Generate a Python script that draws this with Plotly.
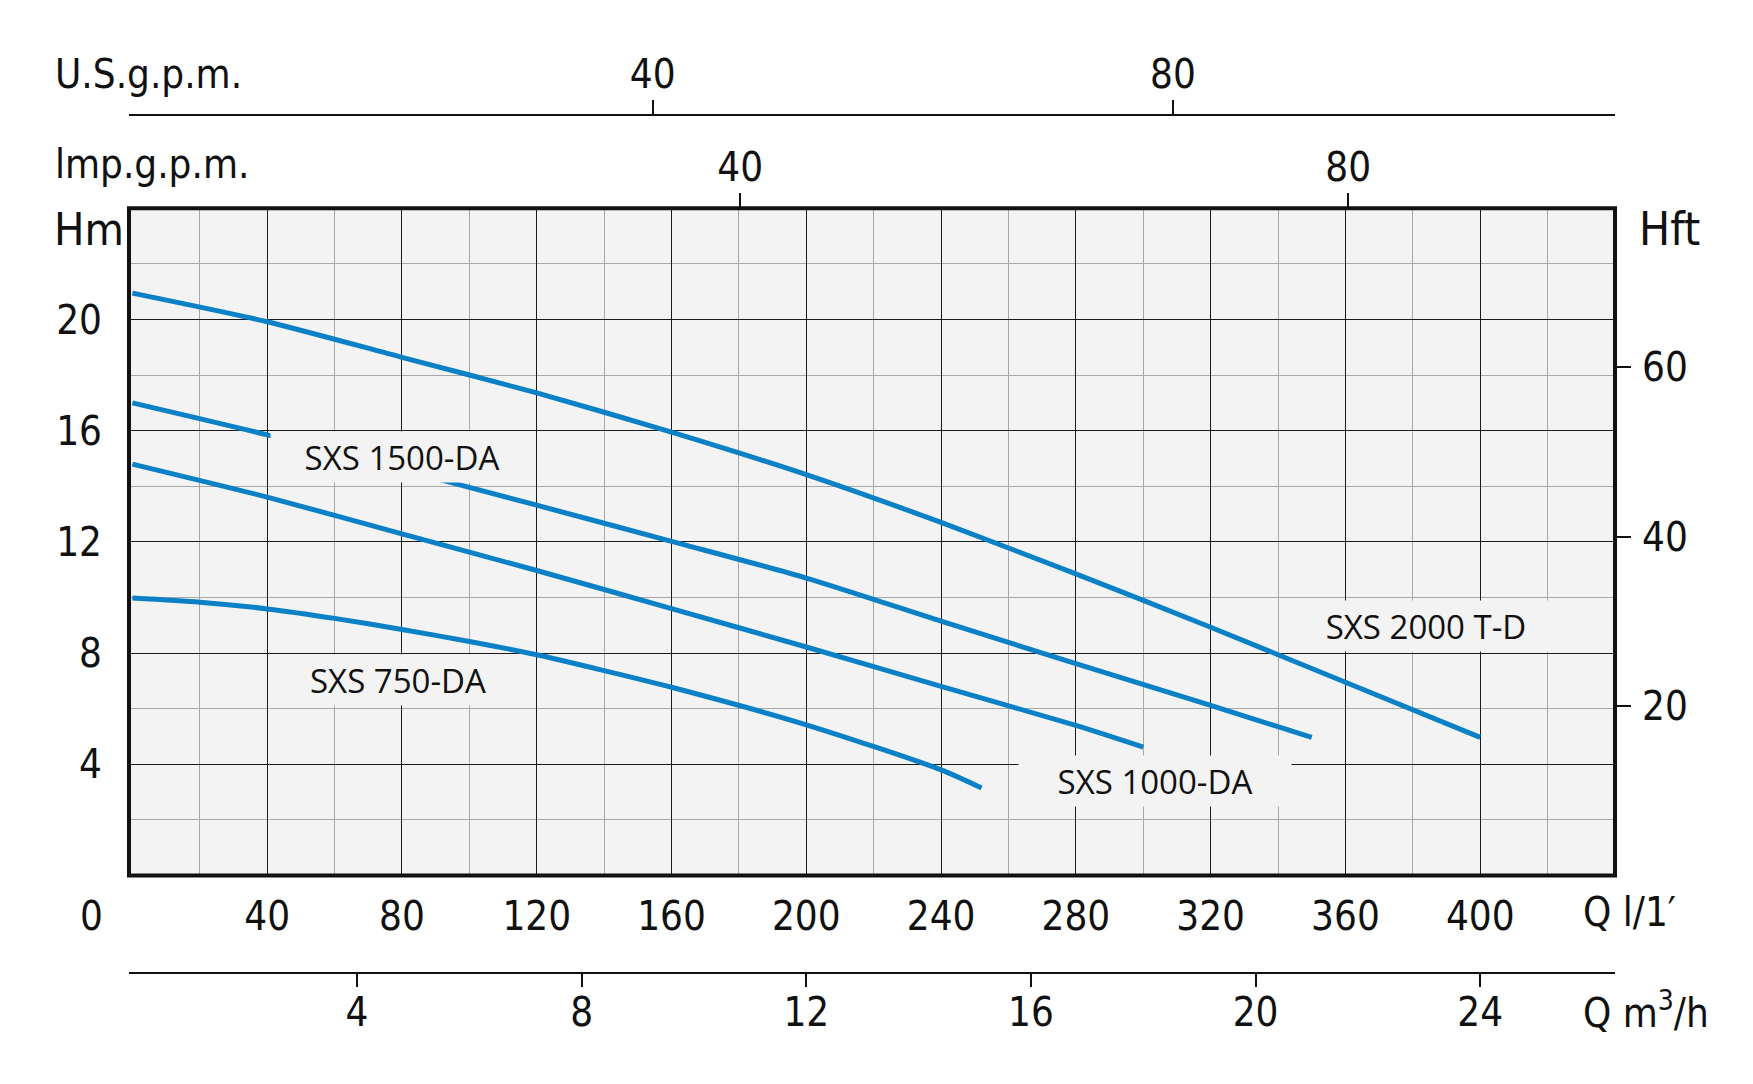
import plotly.graph_objects as go

# ---------------- data ----------------
# Q in l/min, H in m
q_2000 = [0, 40, 80, 120, 160, 200, 240, 280, 320, 360, 400]
h_2000 = [20.95, 19.92, 18.64, 17.36, 15.95, 14.42, 12.7, 10.85, 8.93, 6.95, 4.97]

q_1500 = [0, 40, 80, 120, 160, 200, 240, 280, 320, 350]
h_1500 = [17.0, 15.85, 14.6, 13.32, 12.02, 10.7, 9.15, 7.62, 6.12, 4.97]

q_1000 = [0, 40, 80, 120, 160, 200, 240, 280, 300]
h_1000 = [14.8, 13.61, 12.29, 10.97, 9.6, 8.22, 6.8, 5.4, 4.62]

q_750 = [0, 20, 40, 60, 80, 100, 120, 140, 160, 200, 240, 252]
h_750 = [9.98, 9.83, 9.59, 9.25, 8.85, 8.42, 7.94, 7.37, 6.77, 5.42, 3.8, 3.15]

curve_names = ["SXS 2000 T-D", "SXS 1500-DA", "SXS 1000-DA", "SXS 750-DA"]
# label anchor points (Q l/min, H m) and box sizes
label_q = [383.8, 80.0, 303.4, 78.9]
label_h = [8.97, 15.04, 3.40, 7.03]
label_w = [270, 262, 272, 246]

# axis ticks
q_major = [40, 80, 120, 160, 200, 240, 280, 320, 360, 400]
q_minor = [20, 60, 100, 140, 180, 220, 260, 300, 340, 380, 420]
h_major = [4, 8, 12, 16, 20]
h_minor = [2, 6, 10, 14, 18, 22]
ft_ticks = [20, 40, 60]
imp_ticks = [40, 80]
us_ticks = [40, 80]
m3h_ticks = [4, 8, 12, 16, 20, 24]

# unit conversions as drawn on the chart
LPM_PER_US_GPM = 3.86
LPM_PER_IMP_GPM = 4.51
M3H_PER_LPM = 0.06
FT_PER_M = 3.28084

Q_RANGE = [-1, 440]
H_RANGE = [0, 24]

# ---------------- layout geometry ----------------
# the page body has an 8px default margin: compensate so the picture sits like the reference
OFF = 8
W, H = 1753 - OFF, 1084 - OFF
ML, MR, MT, MB = 129 - OFF, 138, 115 - OFF, 111
PW, PH = W - ML - MR, H - MT - MB


def px_x(px):
    return (px - OFF - ML) / PW


def px_y(py):
    return (H - MB - (py - OFF)) / PH


Y_DOMAIN = [px_y(875.5), px_y(208.3)]

BLUE = "#0a80c6"
BG = "#f3f3f3"
FAM = "DejaVu Sans Condensed, DejaVu Sans, sans-serif"
TS = 40
TICKFONT = dict(family=FAM, size=TS, color="#111")
LABFONT = dict(family="Open Sans, Noto Sans, sans-serif", size=33, color="#111")

fig = go.Figure()

for q, h in [(q_2000, h_2000), (q_1500, h_1500), (q_1000, h_1000), (q_750, h_750)]:
    fig.add_trace(go.Scatter(x=q, y=h, mode="lines",
                             line=dict(color=BLUE, width=5, shape="spline", smoothing=0.7),
                             showlegend=False, hoverinfo="skip"))

# dummy traces to register the auxiliary axes
for xa, ya in [("x2", "y"), ("x3", "y"), ("x4", "y"), ("x", "y2")]:
    fig.add_trace(go.Scatter(x=[None], y=[None], xaxis=xa, yaxis=ya, showlegend=False,
                             hoverinfo="skip", mode="markers"))

common_x = dict(showgrid=False, zeroline=False, tickfont=TICKFONT, automargin=False)

fig.update_layout(
    width=W, height=H,
    margin=dict(l=ML, r=MR, t=MT, b=MB, autoexpand=False),
    paper_bgcolor="white", plot_bgcolor=BG,
    xaxis=dict(range=Q_RANGE, domain=[0, 1], anchor="y", side="bottom", automargin=False,
               tickmode="array", tickvals=q_major, ticks="", ticklabelstandoff=13,
               showgrid=True, gridcolor="#1a1a1a", gridwidth=1.4, zeroline=False,
               showline=False, tickfont=TICKFONT,
               minor=dict(tickmode="array", tickvals=q_minor, showgrid=True,
                          gridcolor="#a8a8a8", gridwidth=1.2, ticks="")),
    yaxis=dict(range=H_RANGE, domain=Y_DOMAIN, anchor="x", automargin=False,
               tickmode="array", tickvals=h_major, ticks="", ticklabelstandoff=26,
               showgrid=True, gridcolor="#1a1a1a", gridwidth=1.4, zeroline=False,
               showline=False, tickfont=TICKFONT,
               minor=dict(tickmode="array", tickvals=h_minor, showgrid=True,
                          gridcolor="#a8a8a8", gridwidth=1.2, ticks="")),
    xaxis2=dict(overlaying="x", anchor="y", side="top",
                range=[Q_RANGE[0] / LPM_PER_IMP_GPM, Q_RANGE[1] / LPM_PER_IMP_GPM],
                tickmode="array", tickvals=imp_ticks, ticks="outside", ticklen=14,
                tickwidth=1.5, tickcolor="#111", ticklabelstandoff=-4, showline=False, **common_x),
    xaxis3=dict(overlaying="x", anchor="free", position=1, side="top",
                range=[Q_RANGE[0] / LPM_PER_US_GPM, Q_RANGE[1] / LPM_PER_US_GPM],
                tickmode="array", tickvals=us_ticks, ticks="outside", ticklen=14,
                tickwidth=1.5, tickcolor="#111", ticklabelstandoff=-4,
                showline=True, linecolor="#111", linewidth=1.8, **common_x),
    xaxis4=dict(overlaying="x", anchor="free", position=0, side="bottom",
                range=[Q_RANGE[0] * M3H_PER_LPM, Q_RANGE[1] * M3H_PER_LPM],
                tickmode="array", tickvals=m3h_ticks, ticks="outside", ticklen=13,
                tickwidth=1.5, tickcolor="#111", ticklabelstandoff=-9,
                showline=True, linecolor="#111", linewidth=1.8, **common_x),
    yaxis2=dict(overlaying="y", anchor="x", side="right", automargin=False,
                range=[H_RANGE[0] * FT_PER_M, H_RANGE[1] * FT_PER_M],
                tickmode="array", tickvals=ft_ticks, ticks="outside", ticklen=15,
                tickwidth=2, tickcolor="#111", ticklabelstandoff=3,
                showgrid=False, zeroline=False, showline=False, tickfont=TICKFONT),
)

# frame of the plot area
fig.add_shape(type="rect", xref="x domain", yref="y domain", x0=0, x1=1, y0=0, y1=1,
              line=dict(color="#111", width=4), layer="above")

# curve labels with masking background
for name, q, h, w in zip(curve_names, label_q, label_h, label_w):
    fig.add_annotation(x=q, y=h, xref="x", yref="y", text=name, showarrow=False,
                       font=LABFONT, bgcolor=BG, width=w, height=50, borderpad=0,
                       xanchor="center", yanchor="middle")

# axis titles and unit labels (positions in reference pixels)
texts = [
    ("U.S.g.p.m.", 53, 74, TS, "left"),
    ("lmp.g.p.m.", 53, 164, TS, "left"),
    ("Hm", 52, 229, 45, "left"),
    ("Hft", 1637, 229, 46, "left"),
    ("0", 91, 916, TS, "center"),
    ("Q l/1\u2032", 1581, 912, TS, "left"),
    ("Q m<sup>3</sup>/h", 1581, 1010, TS, "left"),
]
for t, x, y, s, anc in texts:
    fig.add_annotation(x=px_x(x), y=px_y(y), xref="paper", yref="paper", text=t,
                       showarrow=False, xanchor=anc, yanchor="middle",
                       font=dict(family=FAM, size=s, color="#111"))

fig.write_html("out.html")
